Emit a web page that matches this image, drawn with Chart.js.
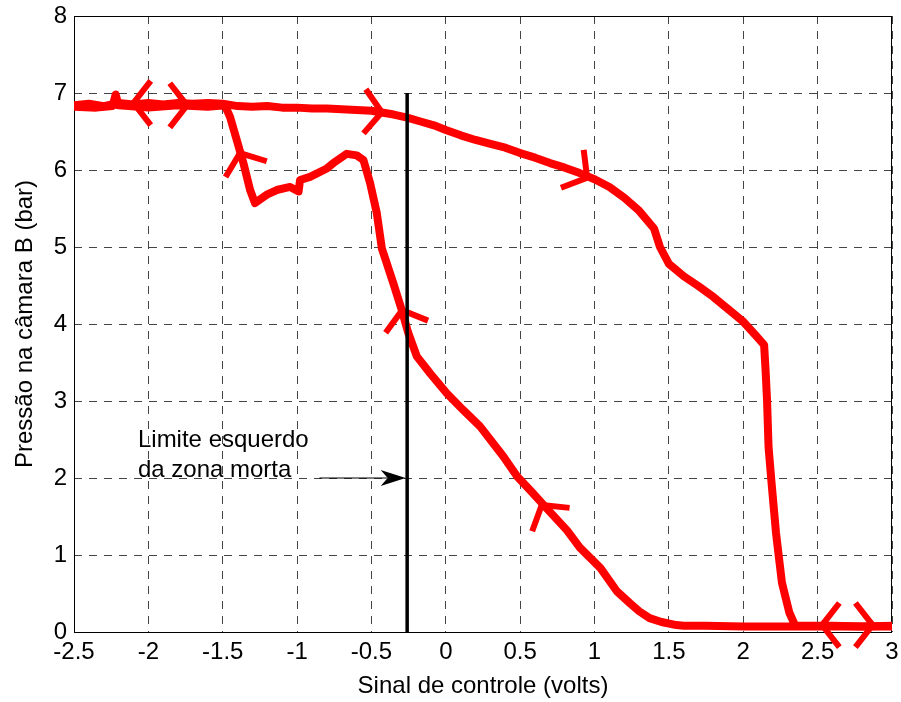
<!DOCTYPE html>
<html>
<head>
<meta charset="utf-8">
<script src="https://cdn.jsdelivr.net/npm/chart.js@4/dist/chart.umd.min.js"></script>
<style>
  html, body { margin: 0; padding: 0; background: #fff; }
  #wrap { width: 901px; height: 702px; }
</style>
</head>
<body>
<div id="wrap"><canvas id="chart" width="901" height="702"></canvas></div>
<script>
// ida: da esquerda para a direita, descida e patamar em zero
const forwardX = [-2.5, -2.4, -2.3, -2.2, -2.1, -2.0, -1.9, -1.8, -1.7, -1.6, -1.5, -1.4, -1.3, -1.2, -1.1, -1.0,
    -0.9, -0.8, -0.7, -0.6, -0.5, -0.44, -0.35, -0.26, -0.17, -0.08, 0.0, 0.1, 0.2, 0.3, 0.4, 0.5, 0.6, 0.7,
    0.8, 0.9, 1.0, 1.1, 1.2, 1.3, 1.4, 1.44, 1.5, 1.6, 1.7, 1.8, 1.9, 2.0, 2.08, 2.14, 2.15, 2.16, 2.17, 2.19,
    2.22, 2.26, 2.31, 2.35, 2.6, 2.8, 3.0];
const forwardY = [6.84, 6.86, 6.83, 6.87, 6.85, 6.87, 6.85, 6.87, 6.86, 6.87, 6.86, 6.83, 6.82, 6.83, 6.81, 6.81,
    6.80, 6.80, 6.79, 6.78, 6.77, 6.75, 6.72, 6.68, 6.63, 6.58, 6.52, 6.45, 6.39, 6.34, 6.29, 6.22, 6.16, 6.09,
    6.03, 5.96, 5.88, 5.78, 5.64, 5.47, 5.24, 5.0, 4.78, 4.62, 4.49, 4.35, 4.19, 4.03, 3.86, 3.73, 3.4, 3.0, 2.4, 1.94,
    1.29, 0.64, 0.25, 0.08, 0.08, 0.07, 0.08];

// volta: da direita para a esquerda, subida e laço inferior
const returnX = [3.0, 2.8, 2.4, 2.0, 1.75, 1.6, 1.55, 1.45, 1.37, 1.3, 1.24, 1.15, 1.04, 0.9, 0.815, 0.7, 0.567,
    0.48, 0.387, 0.23, 0.118, 0.006, -0.106, -0.195, -0.252, -0.296, -0.353, -0.43, -0.464, -0.509, -0.554,
    -0.599, -0.666, -0.756, -0.8, -0.913, -0.98, -0.99, -1.047, -1.137, -1.204, -1.283, -1.316, -1.361, -1.406,
    -1.451, -1.485, -1.6, -1.8, -2.0, -2.2, -2.22, -2.24, -2.35, -2.5];
const returnY = [0.07, 0.07, 0.07, 0.07, 0.08, 0.08, 0.09, 0.13, 0.18, 0.27, 0.37, 0.53, 0.83, 1.10, 1.32, 1.56, 1.84,
    2.02, 2.28, 2.67, 2.88, 3.10, 3.36, 3.58, 3.88, 4.18, 4.53, 4.98, 5.44, 5.83, 6.13,
    6.19, 6.21, 6.09, 6.02, 5.91, 5.87, 5.72, 5.78, 5.74, 5.68, 5.57, 5.74, 6.09, 6.39,
    6.69, 6.84, 6.82, 6.84, 6.81, 6.84, 6.98, 6.83, 6.81, 6.82];

// setas sobre a curva (ponta e direção em graus na tela)
const arrowX = [-2.1, -1.74, -1.384, -0.43, 0.95, -0.294, 0.645, 2.53, 2.87];
const arrowY = [6.87, 6.84, 6.22, 6.75, 5.9, 4.18, 1.65, 0.09, 0.09];
const arrowDir = [180, 0, -111, 3, 31, -106, -122, 180, 0];

// limite esquerdo da zona morta
const deadZoneX = [-0.26, -0.26];
const deadZoneY = [7, 0];

const xTicks = [-2.5, -2, -1.5, -1, -0.5, 0, 0.5, 1, 1.5, 2, 2.5, 3];
const yTicks = [0, 1, 2, 3, 4, 5, 6, 7, 8];

const noteLines = ["Limite esquerdo", "da zona morta"];
const noteAt = [-2.07, 2.3];
const noteArrowFrom = [-0.85, 2.0];
const noteArrowTo = [-0.27, 2.0];

const FONT = "Arial, 'Liberation Sans', sans-serif";

function toPoints(xs, ys) {
    return xs.map((x, i) => ({ x: x, y: ys[i] }));
}

// caixa do gráfico e setas da curva
const boxAndArrows = {
    id: "boxAndArrows",
    beforeDatasetsDraw(chart) {
        const { ctx, chartArea: a, scales } = chart;
        ctx.save();
        ctx.strokeStyle = "#000";
        ctx.lineWidth = 1;
        ctx.strokeRect(Math.round(a.left) + 0.5, Math.round(a.top) + 0.5,
            Math.round(a.right - a.left) - 1, Math.round(a.bottom - a.top));

        ctx.strokeStyle = "#ff0000";
        ctx.lineWidth = 6;
        ctx.lineCap = "butt";
        ctx.lineJoin = "miter";
        const len = 28;
        const spread = 52 * Math.PI / 180;
        arrowX.forEach((ax, i) => {
            const px = scales.x.getPixelForValue(ax);
            const py = scales.y.getPixelForValue(arrowY[i]);
            const back = (arrowDir[i] + 180) * Math.PI / 180;
            ctx.beginPath();
            ctx.moveTo(px + len * Math.cos(back - spread), py + len * Math.sin(back - spread));
            ctx.lineTo(px, py);
            ctx.lineTo(px + len * Math.cos(back + spread), py + len * Math.sin(back + spread));
            ctx.stroke();
        });
        ctx.restore();
    },
    afterDatasetsDraw(chart) {
        const { ctx, scales } = chart;
        ctx.save();
        // texto da anotação
        const tx = scales.x.getPixelForValue(noteAt[0]);
        const ty = scales.y.getPixelForValue(noteAt[1]);
        ctx.fillStyle = "#000";
        ctx.font = "24px " + FONT;
        ctx.textAlign = "left";
        ctx.textBaseline = "alphabetic";
        ctx.fillText(noteLines[0], tx, ty - 8);
        ctx.fillText(noteLines[1], tx, ty + 22);

        // seta da anotação
        const x1 = scales.x.getPixelForValue(noteArrowFrom[0]);
        const y1 = scales.y.getPixelForValue(noteArrowFrom[1]);
        const x2 = scales.x.getPixelForValue(noteArrowTo[0]);
        const y2 = scales.y.getPixelForValue(noteArrowTo[1]);
        ctx.strokeStyle = "#000";
        ctx.lineWidth = 1;
        ctx.beginPath();
        ctx.moveTo(x1, y1);
        ctx.lineTo(x2 - 18, y2);
        ctx.stroke();
        ctx.beginPath();
        ctx.moveTo(x2, y2);
        ctx.lineTo(x2 - 25, y2 - 8);
        ctx.lineTo(x2 - 18, y2);
        ctx.lineTo(x2 - 25, y2 + 8);
        ctx.closePath();
        ctx.fill();
        ctx.restore();
    }
};

const ctx = document.getElementById("chart").getContext("2d");
const chart = new Chart(ctx, {
    type: "scatter",
    data: {
        datasets: [
            {
                label: "zona morta",
                data: toPoints(deadZoneX, deadZoneY),
                showLine: true,
                borderColor: "#000",
                borderWidth: 3.5,
                pointRadius: 0,
                borderCapStyle: "butt"
            },
            {
                label: "ida",
                data: toPoints(forwardX, forwardY),
                showLine: true,
                borderColor: "#ff0000",
                borderWidth: 8,
                pointRadius: 0,
                tension: 0,
                borderJoinStyle: "round",
                borderCapStyle: "round"
            },
            {
                label: "volta",
                data: toPoints(returnX, returnY),
                showLine: true,
                borderColor: "#ff0000",
                borderWidth: 8,
                pointRadius: 0,
                tension: 0,
                borderJoinStyle: "round",
                borderCapStyle: "round"
            }
        ]
    },
    options: {
        responsive: false,
        animation: false,
        events: [],
        layout: { padding: { left: 0, right: 9, top: 16, bottom: 0 } },
        plugins: {
            legend: { display: false },
            tooltip: { enabled: false }
        },
        scales: {
            x: {
                type: "linear",
                min: -2.5,
                max: 3,
                afterBuildTicks: (scale) => { scale.ticks = xTicks.map(v => ({ value: v })); },
                afterFit: (scale) => {
                    scale.height = 70;
                    scale.paddingLeft = 0;
                    scale.paddingRight = 0;
                },
                ticks: {
                    color: "#000",
                    font: { family: FONT, size: 24 },
                    padding: 6,
                    maxRotation: 0,
                    autoSkip: false,
                    callback: (v) => String(v)
                },
                grid: { color: "#444", lineWidth: 1, drawTicks: false },
                border: { display: false, dash: [8, 7] },
                title: {
                    display: true,
                    text: "Sinal de controle (volts)",
                    color: "#000",
                    font: { family: FONT, size: 24 },
                    padding: { top: 0, bottom: 1 }
                }
            },
            y: {
                type: "linear",
                min: 0,
                max: 8,
                afterBuildTicks: (scale) => { scale.ticks = yTicks.map(v => ({ value: v })); },
                afterFit: (scale) => {
                    scale.width = 74;
                    scale.paddingTop = 0;
                    scale.paddingBottom = 0;
                },
                ticks: {
                    color: "#000",
                    font: { family: FONT, size: 24 },
                    padding: 7,
                    callback: (v) => String(v)
                },
                grid: { color: "#444", lineWidth: 1, drawTicks: false },
                border: { display: false, dash: [8, 7] },
                title: {
                    display: true,
                    text: "Pressão na câmara B (bar)",
                    color: "#000",
                    font: { family: FONT, size: 24 },
                    padding: { top: 11, bottom: 0 }
                }
            }
        }
    },
    plugins: [boxAndArrows]
});
</script>
</body>
</html>
